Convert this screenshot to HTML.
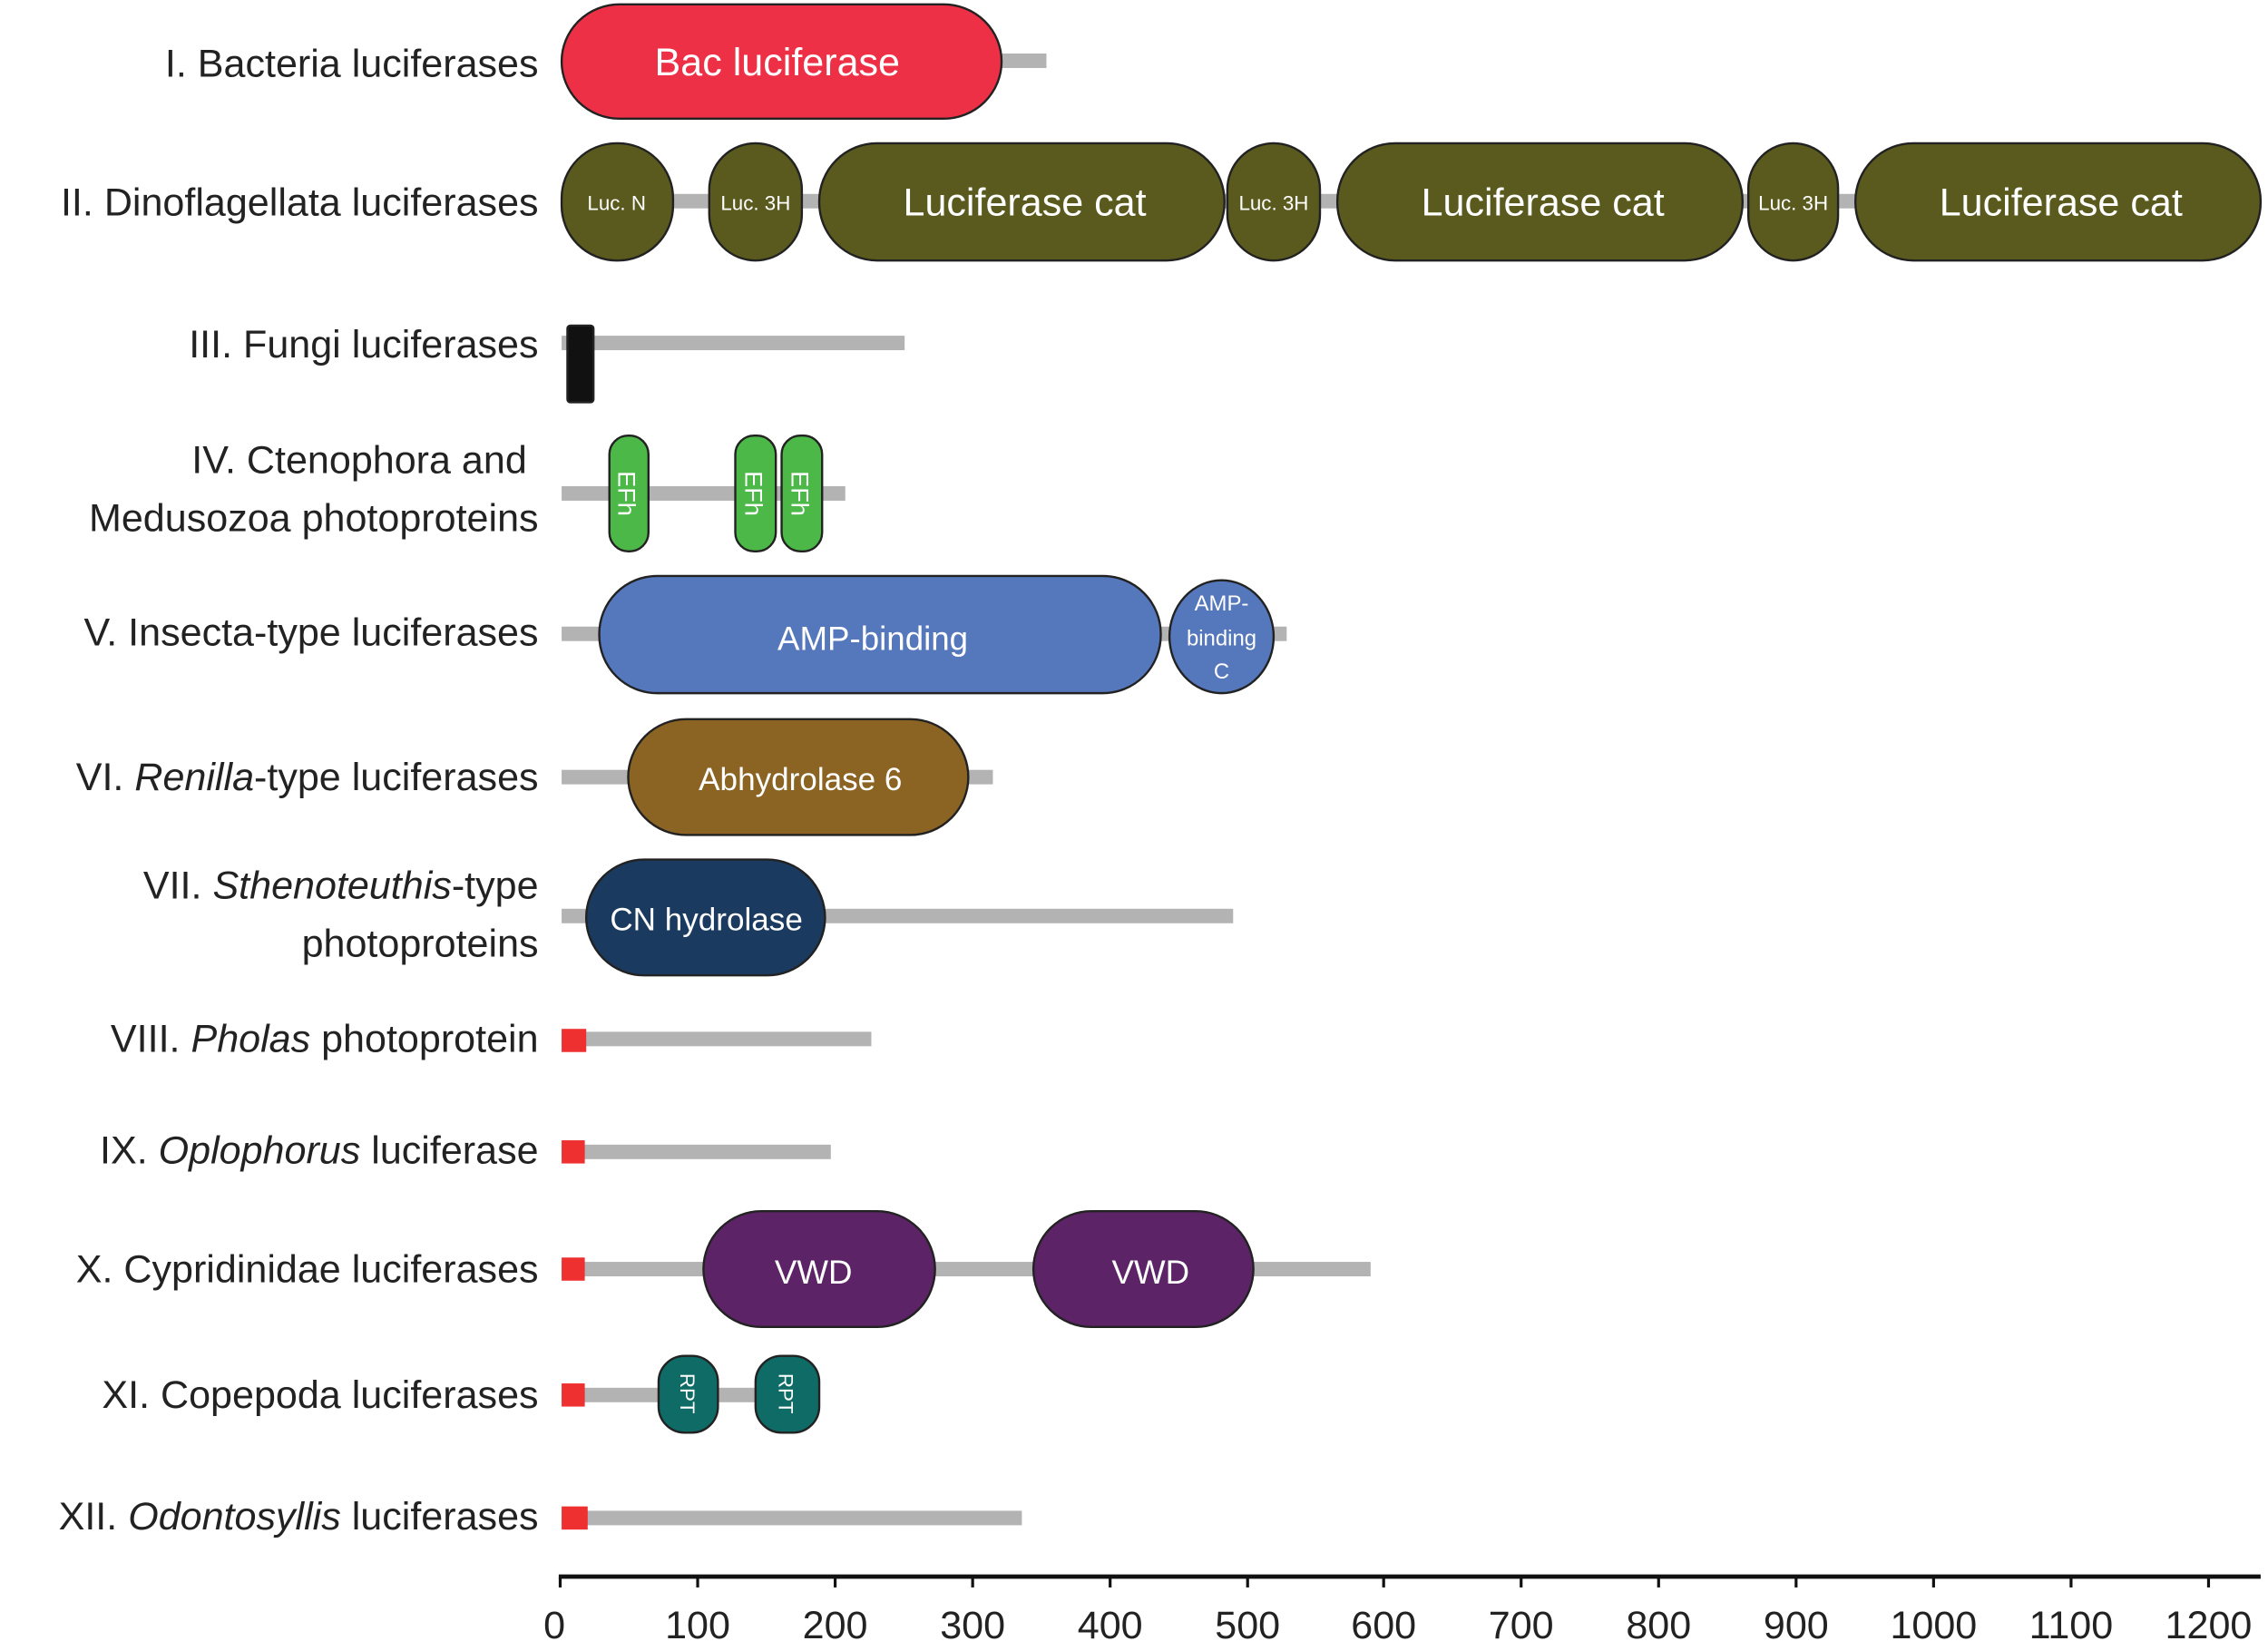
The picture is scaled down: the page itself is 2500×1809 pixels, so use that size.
<!DOCTYPE html>
<html><head><meta charset="utf-8"><style>
html,body{margin:0;padding:0;background:#fff;}
svg{display:block;}
text{font-family:"Liberation Sans",sans-serif;}
</style></head><body>
<svg width="2500" height="1809" viewBox="0 0 1567 1134" xmlns="http://www.w3.org/2000/svg">
<g fill="#b3b3b3">
<rect x="388" y="37" width="335" height="10"/>
<rect x="388" y="134" width="1172" height="10"/>
<rect x="388" y="232" width="237" height="10"/>
<rect x="388" y="336" width="196" height="10"/>
<rect x="388" y="433" width="501" height="10"/>
<rect x="388" y="532" width="298" height="10"/>
<rect x="388" y="628" width="464" height="10"/>
<rect x="388" y="713" width="214" height="10"/>
<rect x="388" y="791" width="186" height="10"/>
<rect x="388" y="872" width="559" height="10"/>
<rect x="388" y="959" width="178" height="10"/>
<rect x="388" y="1044" width="318" height="10"/>
</g>
<g stroke="#222" stroke-width="1.5">
<rect x="388" y="3" width="304" height="79" rx="40" fill="#ee3047"/>
<g fill="#5a5a1e">
<rect x="388" y="99" width="77" height="81" rx="38"/>
<rect x="490" y="99" width="64" height="81" rx="32"/>
<rect x="566" y="99" width="280" height="81" rx="40"/>
<rect x="848" y="99" width="64" height="81" rx="32"/>
<rect x="924" y="99" width="280" height="81" rx="40"/>
<rect x="1208" y="99" width="62" height="81" rx="31"/>
<rect x="1282" y="99" width="280" height="81" rx="40"/>
</g>
<rect x="392" y="225" width="18" height="53" rx="2" fill="#111"/>
<g fill="#4cb847">
<rect x="421" y="301" width="27" height="80" rx="13"/>
<rect x="508" y="301" width="28" height="80" rx="13"/>
<rect x="540" y="301" width="28" height="80" rx="13"/>
</g>
<rect x="414" y="398" width="388" height="81" rx="40" fill="#5577bb"/>
<ellipse cx="844" cy="440" rx="36" ry="39" fill="#5577bb"/>
<rect x="434" y="497" width="235" height="80" rx="40" fill="#8b6424"/>
<rect x="405" y="594" width="165" height="80" rx="40" fill="#1a3a5f"/>
<rect x="486" y="837" width="160" height="80" rx="40" fill="#5c2366"/>
<rect x="714" y="837" width="152" height="80" rx="40" fill="#5c2366"/>
<rect x="455" y="937" width="41" height="53" rx="18" fill="#0e6b66"/>
<rect x="522" y="937" width="44" height="53" rx="18" fill="#0e6b66"/>
</g>
<g fill="#ee3030">
<rect x="388" y="711" width="17" height="16"/>
<rect x="388" y="788" width="16" height="16"/>
<rect x="388" y="869" width="16" height="16"/>
<rect x="388" y="956" width="16" height="16"/>
<rect x="388" y="1041" width="18" height="16"/>
</g>
<g fill="#fff" text-anchor="middle">
<text x="537" y="52" font-size="27">Bac luciferase</text>
<text x="426" y="145" font-size="14">Luc. N</text>
<text x="522" y="145" font-size="14">Luc. 3H</text>
<text x="708" y="149" font-size="27">Luciferase cat</text>
<text x="880" y="145" font-size="14">Luc. 3H</text>
<text x="1066" y="149" font-size="27">Luciferase cat</text>
<text x="1239" y="145" font-size="14">Luc. 3H</text>
<text x="1424" y="149" font-size="27">Luciferase cat</text>
<text transform="translate(427,341) rotate(90)" font-size="17">EFh</text>
<text transform="translate(515,341) rotate(90)" font-size="17">EFh</text>
<text transform="translate(547,341) rotate(90)" font-size="17">EFh</text>
<text x="603" y="449" font-size="23">AMP-binding</text>
<text x="844" y="422" font-size="15">AMP-</text>
<text x="844" y="446" font-size="15">binding</text>
<text x="844" y="469" font-size="15">C</text>
<text x="553" y="546" font-size="22">Abhydrolase 6</text>
<text x="488" y="643" font-size="22">CN hydrolase</text>
<text x="562" y="887" font-size="23">VWD</text>
<text x="795" y="887" font-size="23">VWD</text>
<text transform="translate(470,963) rotate(90)" font-size="14">RPT</text>
<text transform="translate(538,963) rotate(90)" font-size="14">RPT</text>
</g>
<g fill="#222" font-size="27" text-anchor="end">
<text x="372" y="53">I. Bacteria luciferases</text>
<text x="372" y="149">II. Dinoflagellata luciferases</text>
<text x="372" y="247">III. Fungi luciferases</text>
<text x="364" y="327">IV. Ctenophora and</text>
<text x="372" y="367">Medusozoa photoproteins</text>
<text x="372" y="446">V. Insecta-type luciferases</text>
<text x="372" y="546">VI. <tspan font-style="italic">Renilla</tspan>-type luciferases</text>
<text x="372" y="621">VII. <tspan font-style="italic">Sthenoteuthis</tspan>-type</text>
<text x="372" y="661">photoproteins</text>
<text x="372" y="727">VIII. <tspan font-style="italic">Pholas</tspan> photoprotein</text>
<text x="372" y="804">IX. <tspan font-style="italic">Oplophorus</tspan> luciferase</text>
<text x="372" y="886">X. Cypridinidae luciferases</text>
<text x="372" y="973">XI. Copepoda luciferases</text>
<text x="372" y="1057">XII. <tspan font-style="italic">Odontosyllis</tspan> luciferases</text>
</g>
<rect x="386" y="1088" width="1176" height="3" fill="#111"/>
<g stroke="#111" stroke-width="2">
<line x1="387" y1="1090" x2="387" y2="1097"/><line x1="482" y1="1090" x2="482" y2="1097"/><line x1="577" y1="1090" x2="577" y2="1097"/><line x1="672" y1="1090" x2="672" y2="1097"/><line x1="767" y1="1090" x2="767" y2="1097"/><line x1="862" y1="1090" x2="862" y2="1097"/><line x1="956" y1="1090" x2="956" y2="1097"/><line x1="1051" y1="1090" x2="1051" y2="1097"/><line x1="1146" y1="1090" x2="1146" y2="1097"/><line x1="1241" y1="1090" x2="1241" y2="1097"/><line x1="1336" y1="1090" x2="1336" y2="1097"/><line x1="1431" y1="1090" x2="1431" y2="1097"/><line x1="1526" y1="1090" x2="1526" y2="1097"/>
</g>
<g fill="#222" font-size="27" text-anchor="middle">
<text x="383" y="1132">0</text><text x="482" y="1132">100</text><text x="577" y="1132">200</text><text x="672" y="1132">300</text><text x="767" y="1132">400</text><text x="862" y="1132">500</text><text x="956" y="1132">600</text><text x="1051" y="1132">700</text><text x="1146" y="1132">800</text><text x="1241" y="1132">900</text><text x="1336" y="1132">1000</text><text x="1431" y="1132">1100</text><text x="1526" y="1132">1200</text>
</g>
</svg>
</body></html>
